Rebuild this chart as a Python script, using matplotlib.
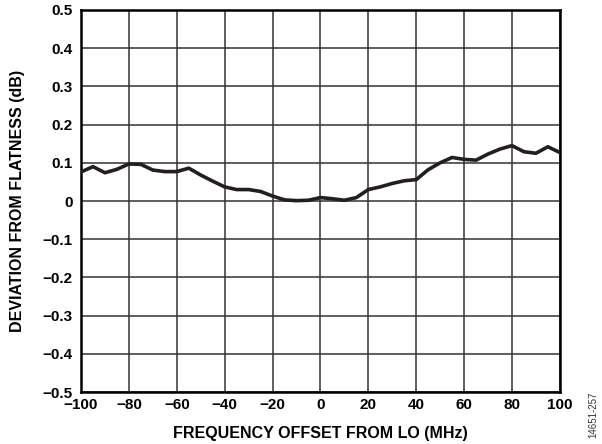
import matplotlib
matplotlib.use("Agg")
import matplotlib.pyplot as plt

freq_mhz = [-100, -95, -90, -85, -80, -75, -70, -65, -60, -55, -50, -45, -40, -35, -30,
            -25, -20, -15, -10, -5, 0, 5, 10, 15, 20, 25, 30, 35, 40, 45, 50, 55, 60,
            65, 70, 75, 80, 85, 90, 95, 100]
deviation_db = [0.076, 0.090, 0.074, 0.083, 0.097, 0.096, 0.081, 0.077, 0.077, 0.086,
                0.068, 0.052, 0.037, 0.030, 0.030, 0.025, 0.013, 0.003, 0.001, 0.002,
                0.009, 0.006, 0.002, 0.009, 0.030, 0.037, 0.046, 0.053, 0.056, 0.082,
                0.100, 0.114, 0.109, 0.107, 0.123, 0.136, 0.145, 0.129, 0.125, 0.142,
                0.127]
x_ticks = [-100, -80, -60, -40, -20, 0, 20, 40, 60, 80, 100]
x_tick_labels = ["\u2212100", "\u221280", "\u221260", "\u221240", "\u221220", "0", "20", "40", "60", "80", "100"]
y_ticks = [-0.5, -0.4, -0.3, -0.2, -0.1, 0, 0.1, 0.2, 0.3, 0.4, 0.5]
y_tick_labels = ["\u22120.5", "\u22120.4", "\u22120.3", "\u22120.2", "\u22120.1", "0",
                 "0.1", "0.2", "0.3", "0.4", "0.5"]

plt.rcParams['font.family'] = ['Liberation Sans', 'DejaVu Sans']

fig = plt.figure(figsize=(6.02, 4.44), dpi=100)
ax = fig.add_axes([0.1346, 0.117, 0.7954, 0.8605])

ax.plot(freq_mhz, deviation_db, color="#231f20", linewidth=2.6, solid_joinstyle="round", zorder=3)

ax.set_xlim(-100, 100)
ax.set_ylim(-0.5, 0.5)
ax.set_xticks(x_ticks)
ax.set_xticklabels(x_tick_labels, fontsize=11, fontweight="bold")
ax.set_yticks(y_ticks)
ax.set_yticklabels(y_tick_labels, fontsize=11, fontweight="bold")
ax.tick_params(axis="y", length=0, pad=6)
ax.tick_params(axis="x", length=0, pad=4)
ax.grid(True, color="#333333", linewidth=1.1)
for s in ax.spines.values():
    s.set_linewidth(1.8)
    s.set_color("black")

ax.set_xlabel("FREQUENCY OFFSET FROM LO (MHz)", fontsize=11.5, fontweight="bold")
ax.set_ylabel("DEVIATION FROM FLATNESS (dB)", fontsize=11.5, fontweight="bold")
ax.xaxis.set_label_coords(0.5, -0.088)
ax.yaxis.set_label_coords(-0.117, 0.5)

fig.text(0.985, 0.065, "14651-257", rotation=90, fontsize=7, color="#333333",
         ha="center", va="center")

fig.savefig("out.png", dpi=100)
